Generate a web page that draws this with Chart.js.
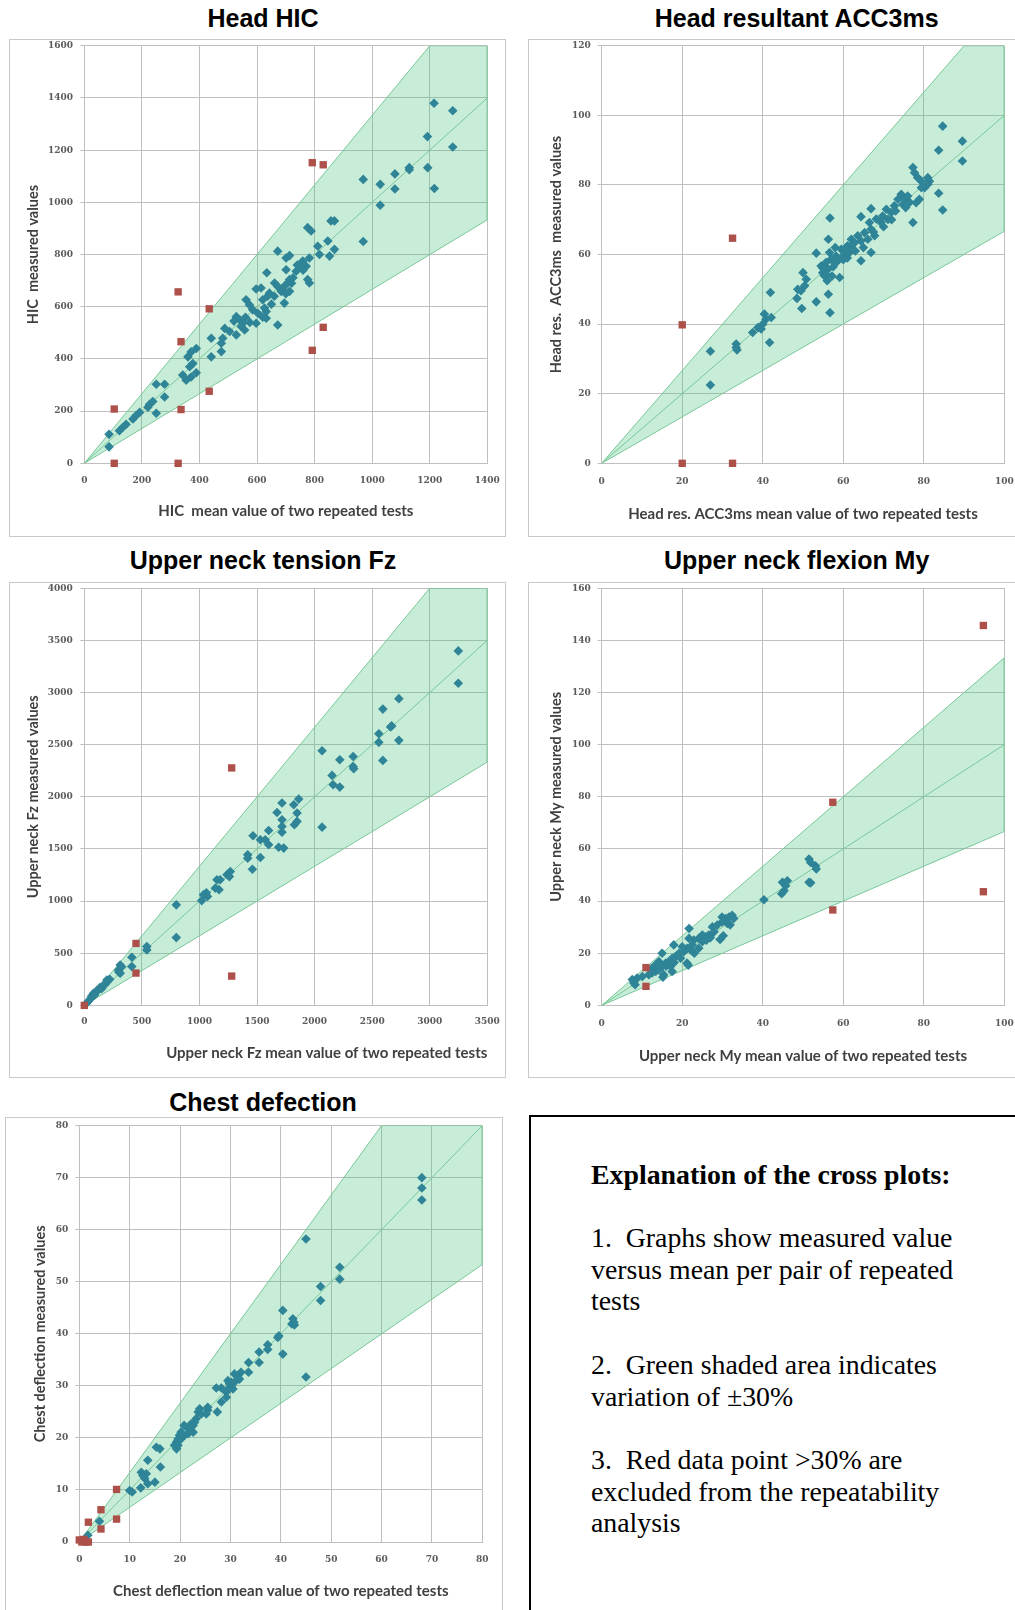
<!DOCTYPE html>
<html>
<head>
<meta charset="utf-8">
<title>Cross plots of repeated tests</title>
<script src="https://cdn.jsdelivr.net/npm/chart.js@4.4.0/dist/chart.umd.min.js"></script>
<style>
  html, body { margin: 0; padding: 0; background: #fff; overflow: hidden; width: 1015px; height: 1610px; }
  .frame { position: absolute; box-sizing: border-box; border: 1px solid #c9c9c9; }
  .panel-title { position: absolute; font-family: "Liberation Sans", Arial, sans-serif; font-weight: bold;
                 font-size: 25px; line-height: 1; color: #000; white-space: nowrap; transform: translate(-50%, -50%); }
  canvas { position: absolute; }
  .note-box { position: absolute; box-sizing: border-box; border: 2px solid #000; background: #fff; }
  .note { position: absolute; font-family: "Liberation Serif", "Times New Roman", serif; font-size: 27px;
          line-height: 31.5px; color: #000; white-space: pre; transform: scaleX(1.03); transform-origin: left top; }
</style>
</head>
<body>

<script>
// ---------- Head HIC ----------
const hicRetained = [
  [86,63],[86,111],[122,125],[134,138],[145,149],[169,170],[180,183],[192,195],[221,215],[227,226],
  [238,237],[250,192],[250,303],[279,303],[279,254],[342,338],[354,318],[371,331],[389,347],[366,370],
  [360,408],[371,427],[389,440],[377,382],[441,408],[441,479],[476,460],[481,479],[476,428],[488,517],
  [505,505],[528,492],[528,562],[540,550],[551,537],[545,524],[557,511],[562,627],[574,607],[585,588],
  [597,537],[603,575],[620,627],[626,595],[637,640],[643,652],[632,556],[632,582],[672,530],[634,730],
  [597,668],[614,672],[661,691],[672,678],[684,659],[690,672],[701,685],[713,704],[713,659],[725,711],
  [736,736],[695,614],[672,813],[701,787],[713,796],[701,742],[747,755],[759,775],[771,755],[782,787],
  [782,691],[776,704],[811,832],[817,800],[776,903],[788,890],[857,929],[869,929],[846,852],[852,794],
  [869,820],[969,850],[969,1088],[1028,1069],[1028,989],[1079,1109],[1079,1051],[1129,1133],[1129,1125],
  [1193,1133],[1216,1053],[1192,1252],[1215,1380],[1280,1351],[1280,1212],
  [520,545],[560,560],[575,540],[620,560],[650,610],[660,640],[700,650],[720,690],[740,760],[760,740]
];
const hicExcluded = [
  [104,208],[104,0],[326,657],[336,466],[336,206],[326,0],[434,592],[434,276],
  [792,1152],[830,1144],[830,521],[792,433]
];
const hicBand = [[0,0],[1200,1600],[1400,1600],[1400,933],[0,0]];
const hicParity = [[0,0],[1400,1400]];

// ---------- Head resultant ACC3ms ----------
const accRetained = [
  [27.0,22.5],[27.0,32.2],[33.4,34.3],[33.4,33.3],[33.6,32.6],[37.5,37.6],[38.8,39.0],[39.6,38.6],[40.0,40.0],
  [40.4,42.9],[40.8,41.4],[42.1,41.9],[41.7,34.7],[41.9,49.1],[48.7,50.0],[49.5,49.6],[50.4,51.0],[50.0,54.8],
  [50.8,52.9],[48.5,47.4],[49.7,44.5],[53.3,46.4],[56.3,48.6],[56.7,43.3],[56.3,64.4],[56.7,70.5],[53.3,60.4],
  [54.5,56.7],[54.9,54.8],[55.3,53.9],[55.7,57.7],[56.2,55.8],[57.0,58.7],[56.6,60.6],[57.8,57.7],[58.2,59.6],
  [59.1,53.4],[59.5,61.5],[60.3,60.6],[61.1,62.5],[62.0,64.4],[62.8,63.4],[63.6,65.4],[64.4,63.9],[65.3,66.3],
  [66.1,64.4],[66.9,67.3],[66.5,69.2],[67.8,65.4],[68.2,70.2],[69.4,69.2],[69.8,71.1],[70.7,73.0],[71.1,70.1],
  [71.9,72.1],[72.7,74.0],[73.6,75.9],[74.4,77.3],[74.8,74.4],[75.2,75.9],[76.0,76.8],[77.3,69.2],[78.1,74.9],
  [78.9,75.9],[64.4,58.2],[66.9,60.6],[64.4,70.9],[66.9,73.2],[62.0,62.5],[59.5,59.1],[60.7,62.0],[77.3,85.0],
  [77.7,83.5],[78.5,82.1],[79.4,81.1],[81.0,82.1],[81.4,81.1],[80.2,79.2],[79.4,79.2],[81.0,80.2],[83.7,77.6],
  [84.7,72.8],[83.7,90.0],[84.7,96.9],[89.6,92.6],[89.6,86.9],
  [55.0,56.0],[56.0,54.0],[57.5,56.5],[58.5,58.0],[60.0,58.5],[61.5,60.5],[63.0,61.0],[65.0,62.0],[67.5,66.5],
  [70.0,68.0],[72.0,70.0],[73.0,72.5],[75.5,73.5],[76.5,75.0],[56.0,52.5],[57.2,53.8],[58.0,62.0],[61.0,59.0]
];
const accExcluded = [[20,39.8],[20,0],[32.5,64.7],[32.5,0]];
const accBand = [[0,0],[90,120],[100,120],[100,66.7],[0,0]];
const accParity = [[0,0],[100,100]];

// ---------- Upper neck tension Fz ----------
const fzRetained = [
  [20,20],[35,40],[50,60],[64,89],[80,116],[90,100],[107,139],[123,148],[136,172],[150,160],[167,196],
  [180,200],[196,244],[208,238],[220,250],[297,340],[300,320],[312,388],[312,308],[324,370],[413,462],
  [413,372],[543,564],[543,532],[799,964],[799,650],[1020,1005],[1035,1060],[1060,1080],[1070,1045],
  [1138,1124],[1152,1204],[1170,1110],[1180,1205],[1239,1252],[1268,1284],[1260,1235],[1419,1444],
  [1419,1412],[1460,1306],[1529,1418],[1465,1626],[1529,1588],[1572,1588],[1601,1540],[1601,1677],
  [1674,1850],[1717,1940],[1717,1780],[1717,1716],[1717,1661],[1688,1517],[1732,1508],[1819,1924],
  [1848,1844],[1825,1732],[1848,1764],[1862,1978],[2065,2442],[2065,1709],[2152,2205],[2161,2115],
  [2219,2355],[2219,2093],[2335,2387],[2335,2291],[2340,2270],[2558,2605],[2558,2522],[2593,2841],
  [2593,2349],[2660,2669],[2670,2680],[2732,2941],[2732,2541],[3248,3399],[3248,3089]
];
const fzExcluded = [[0,0],[449,594],[449,310],[1280,2277],[1280,281]];
const fzBand = [[0,0],[3000,4000],[3500,4000],[3500,2333],[0,0]];
const fzParity = [[0,0],[3500,3500]];

// ---------- Upper neck flexion My ----------
const myRetained = [
  [51.5,56.1],[51.9,54.8],[53.1,53.5],[53.3,52.3],[51.5,47.2],[51.9,47.0],[44.9,47.2],[45.7,45.9],[45.3,44.0],
  [44.7,42.8],[46.1,47.8],[40.3,40.5],[29.9,33.9],[30.8,33.3],[31.6,33.9],[32.4,34.6],[32.8,33.3],[31.2,31.4],
  [29.9,32.0],[28.7,30.8],[27.5,30.1],[27.9,28.2],[26.6,27.0],[25.8,26.3],[25.0,27.0],[24.1,25.7],[22.9,25.1],
  [21.7,25.7],[22.5,23.2],[21.2,21.9],[22.1,21.3],[20.4,20.6],[19.2,20.0],[18.3,18.7],[17.5,18.1],[16.7,16.8],
  [15.9,16.2],[15.0,14.9],[14.2,13.7],[13.4,13.0],[12.5,12.4],[11.7,11.8],[10.1,11.1],[8.8,10.5],[17.9,23.2],
  [15.0,20.0],[21.7,29.5],[21.2,16.2],[17.5,13.0],[15.4,11.8],[24.1,21.9],[25.0,24.4],[19.6,18.1],[17.1,14.9],
  [13.4,15.6],[14.2,16.8],[12.5,14.3],[7.6,9.9],[8.0,8.6],[8.3,7.9],[21.5,15.4],[15.2,10.8],[29.4,25.3],
  [30.2,26.7],[31.9,30.9],[23.0,20.0],[20.0,22.5],[16.0,15.0],[18.0,16.5],[27.0,26.0],[26.0,25.0]
];
const myExcluded = [[94.8,145.7],[94.8,43.6],[57.4,77.9],[57.4,36.6],[11.0,14.5],[11.0,7.3]];
const myBand = [[0,0],[100,133.3],[100,66.7],[0,0]];
const myParity = [[0,0],[100,100]];

// ---------- Chest deflection ----------
const chestRetained = [
  [45.0,58.2],[51.7,52.8],[51.7,50.5],[47.9,49.1],[47.9,46.4],[40.4,44.5],[42.4,42.9],[42.6,42.2],[42.2,41.9],
  [42.7,41.7],[39.4,39.3],[39.6,39.6],[40.4,36.1],[45.0,31.7],[37.4,37.9],[37.4,37.0],[35.7,36.5],[35.7,34.5],
  [33.6,34.5],[33.6,32.6],[32.1,32.6],[31.5,32.0],[30.8,32.3],[31.8,31.3],[29.5,31.0],[29.8,30.4],[30.2,29.8],
  [30.5,29.4],[29.5,29.4],[29.2,28.8],[30.8,30.7],[30.2,30.7],[29.2,27.8],[28.2,29.6],[27.2,29.6],[28.2,26.9],
  [27.4,25.0],[25.5,25.9],[25.5,25.3],[25.2,24.6],[23.9,25.6],[23.6,25.0],[24.2,24.6],[23.2,23.7],[22.9,23.0],
  [22.6,22.4],[22.2,22.7],[21.9,22.1],[22.6,21.1],[21.6,21.8],[20.8,22.4],[20.2,21.1],[19.9,20.5],[19.6,19.8],
  [19.3,19.2],[18.9,18.6],[19.3,17.9],[20.2,19.8],[19.6,18.6],[20.9,20.5],[21.6,20.8],[16.0,17.9],[15.3,18.2],
  [13.6,15.7],[16.1,14.4],[12.3,13.4],[12.6,12.8],[13.3,13.1],[13.0,12.2],[13.6,11.2],[15.0,11.5],[12.2,10.4],
  [10.0,9.9],[10.5,9.6],[4.0,4.0],[1.7,1.3],[68.0,70.0],[68.0,68.0],[68.0,65.7]
];
const chestExcluded = [[0,0.4],[0.5,0],[0.9,0.5],[1.3,0],[1.8,0],[1.8,3.8],[4.3,6.2],[4.3,2.5],[7.4,10.1],[7.4,4.4]];
const chestBand = [[0,0],[60,80],[80,80],[80,53.3],[0,0]];
const chestParity = [[0,0],[80,80]];

// ---------- shared styling ----------
const GRID = '#bfbfbf';
const TEAL = '#2f8497';
const RED = '#ad5049';
const BAND_FILL = 'rgba(70,195,125,0.30)';
const BAND_EDGE = '#79c799';
const tickFont = { family: '"DejaVu Serif", serif', weight: 'bold', size: 9 };
const xTitleFont = { family: 'Lato, "Open Sans", sans-serif', weight: 'bold', size: 15 };
const yTitleFont = { family: 'Lato, "Open Sans", sans-serif', weight: 'bold', size: 14.5 };

const toXY = pairs => pairs.map(([x, y]) => ({ x, y }));

// Panel geometry: frame = [left, top, width, height], canvas likewise (page pixels).
const panels = [
  { title: 'Head HIC', cx: 263, cy: 17.5,
    frame: [9, 39, 497, 498], canvas: [10, 40, 491, 496],
    yAxisW: 74.3, xAxisH: 72.7, padTop: 5.8, padRight: 13.7,
    yTickPad: 7.3, xTickPad: 11.8, yTitlePad: 14.6, xTitlePad: 15.5, xAlign: 'center',
    xMax: 1400, xStep: 200, yMax: 1600, yStep: 200,
    xTitle: 'HIC  mean value of two repeated tests', yTitle: 'HIC  measured values',
    retained: hicRetained, excluded: hicExcluded, band: hicBand, parity: hicParity },
  { title: 'Head resultant ACC3ms', cx: 796.7, cy: 17.5,
    frame: [528, 39, 520, 498], canvas: [529, 40, 486, 496],
    yAxisW: 72.7, xAxisH: 72.7, padTop: 5.8, padRight: 10.7,
    yTickPad: 7, xTickPad: 13.3, yTitlePad: 18.3, xTitlePad: 12.6, xAlign: 'center',
    xMax: 100, xStep: 20, yMax: 120, yStep: 20,
    xTitle: 'Head res. ACC3ms mean value of two repeated tests', yTitle: 'Head res.  ACC3ms  measured values',
    retained: accRetained, excluded: accExcluded, band: accBand, parity: accParity },
  { title: 'Upper neck tension Fz', cx: 263, cy: 560,
    frame: [9, 582, 497, 496], canvas: [10, 583, 491, 494],
    yAxisW: 74.3, xAxisH: 71.6, padTop: 5.2, padRight: 13.7,
    yTickPad: 7.5, xTickPad: 11.2, yTitlePad: 14.6, xTitlePad: 14.7, xAlign: 'end',
    xMax: 3500, xStep: 500, yMax: 4000, yStep: 500,
    xTitle: 'Upper neck Fz mean value of two repeated tests', yTitle: 'Upper neck Fz measured values',
    retained: fzRetained, excluded: fzExcluded, band: fzBand, parity: fzParity },
  { title: 'Upper neck flexion My', cx: 796.7, cy: 560,
    frame: [528, 582, 520, 496], canvas: [529, 583, 486, 494],
    yAxisW: 72.7, xAxisH: 71.6, padTop: 5.2, padRight: 10.7,
    yTickPad: 7, xTickPad: 12.8, yTitlePad: 18.3, xTitlePad: 12, xAlign: 'center',
    xMax: 100, xStep: 20, yMax: 160, yStep: 20,
    xTitle: 'Upper neck My mean value of two repeated tests', yTitle: 'Upper neck My measured values',
    retained: myRetained, excluded: myExcluded, band: myBand, parity: myParity },
  { title: 'Chest defection', cx: 263, cy: 1102,
    frame: [5, 1117, 498, 520], canvas: [6, 1118, 495, 492],
    yAxisW: 73.3, xAxisH: 68, padTop: 7.6, padRight: 18.7,
    yTickPad: 7, xTickPad: 12.1, yTitlePad: 25.3, xTitlePad: 9.7, xAlign: 'center',
    xMax: 80, xStep: 10, yMax: 80, yStep: 10,
    xTitle: 'Chest deflection mean value of two repeated tests', yTitle: 'Chest deflection measured values',
    retained: chestRetained, excluded: chestExcluded, band: chestBand, parity: chestParity }
];

function place(el, left, top, w, h) {
  el.style.left = left + 'px';
  el.style.top = top + 'px';
  if (w != null) el.style.width = w + 'px';
  if (h != null) el.style.height = h + 'px';
}

// Fix the axis box size and drop the label overhang padding so the plot area sits where it is set.
function pinAxis(scale, size) {
  if (scale.isHorizontal()) scale.height = size; else scale.width = size;
  scale.paddingLeft = 0;
  scale.paddingRight = 0;
  scale.paddingTop = 0;
  scale.paddingBottom = 0;
}

function buildPanel(p) {
  const frame = document.createElement('div');
  frame.className = 'frame';
  place(frame, ...p.frame);
  document.body.appendChild(frame);

  const head = document.createElement('div');
  head.className = 'panel-title';
  head.textContent = p.title;
  place(head, p.cx, p.cy);
  document.body.appendChild(head);

  const canvas = document.createElement('canvas');
  const [cl, ct, cw, ch] = p.canvas;
  canvas.width = cw;
  canvas.height = ch;
  place(canvas, cl, ct, cw, ch);
  document.body.appendChild(canvas);

  new Chart(canvas, {
    type: 'scatter',
    data: {
      datasets: [
        { label: 'excluded', data: toXY(p.excluded), order: 0, clip: false,
          pointStyle: 'rect', pointRadius: 5.2, pointBackgroundColor: RED, pointBorderWidth: 0 },
        { label: 'retained', data: toXY(p.retained), order: 1, clip: false,
          pointStyle: 'rectRot', pointRadius: 4.8, pointBackgroundColor: TEAL, pointBorderWidth: 0 },
        { label: 'parity', data: toXY(p.parity), order: 2, showLine: true, pointRadius: 0,
          borderColor: BAND_EDGE, borderWidth: 1, fill: false },
        { label: 'band', data: toXY(p.band), order: 3, showLine: true, pointRadius: 0,
          borderColor: BAND_EDGE, borderWidth: 1, backgroundColor: BAND_FILL, fill: 'shape' }
      ]
    },
    options: {
      responsive: false,
      animation: false,
      devicePixelRatio: 1,
      layout: { padding: { top: p.padTop, right: p.padRight, left: 0, bottom: 0 } },
      plugins: { legend: { display: false }, tooltip: { enabled: false } },
      scales: {
        x: {
          type: 'linear', min: 0, max: p.xMax,
          ticks: { stepSize: p.xStep, autoSkip: false, maxRotation: 0, padding: p.xTickPad,
                   font: tickFont, color: '#5b5b5b', callback: v => String(v) },
          grid: { color: GRID, lineWidth: 1, drawTicks: false },
          border: { color: GRID },
          title: { display: true, text: p.xTitle, font: xTitleFont, color: '#404040', align: p.xAlign,
                   padding: { top: 0, bottom: p.xTitlePad } },
          afterFit: s => pinAxis(s, p.xAxisH)
        },
        y: {
          type: 'linear', min: 0, max: p.yMax,
          ticks: { stepSize: p.yStep, autoSkip: false, padding: p.yTickPad,
                   font: tickFont, color: '#5b5b5b', callback: v => String(v) },
          grid: { color: GRID, lineWidth: 1, drawTicks: true, tickLength: 4 },
          border: { color: GRID },
          title: { display: true, text: p.yTitle, font: yTitleFont, color: '#404040',
                   padding: { top: p.yTitlePad, bottom: 0 } },
          afterFit: s => pinAxis(s, p.yAxisW)
        }
      }
    }
  });
}

panels.forEach(buildPanel);
</script>

<div class="note-box" style="left:529px;top:1115px;width:520px;height:520px;"></div>
<div class="note" style="left:591px;top:1160px;font-weight:bold;">Explanation of the cross plots:</div>
<div class="note" style="left:591px;top:1223px;">1.  Graphs show measured value
versus mean per pair of repeated
tests</div>
<div class="note" style="left:591px;top:1350px;">2.  Green shaded area indicates
variation of ±30%</div>
<div class="note" style="left:591px;top:1445px;">3.  Red data point &gt;30% are
excluded from the repeatability
analysis</div>

</body>
</html>
